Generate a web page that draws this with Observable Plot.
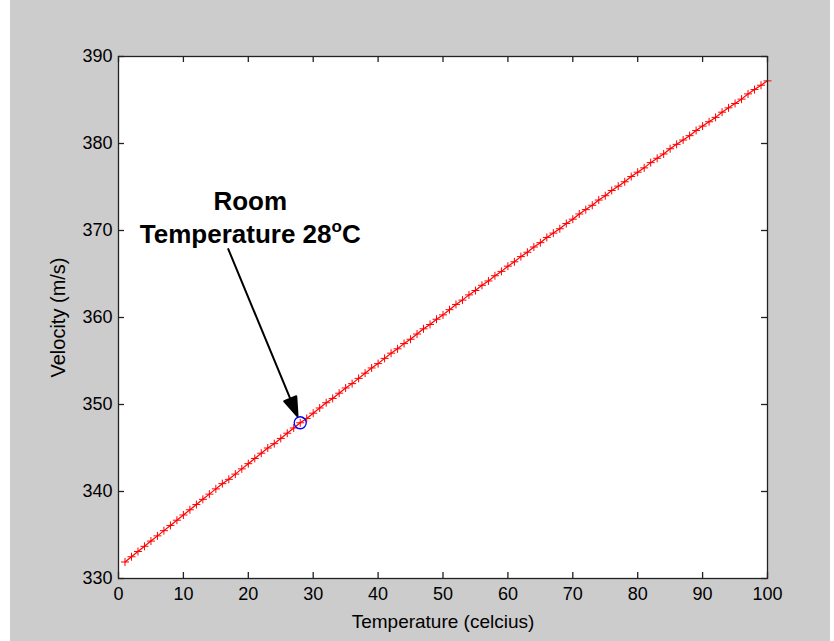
<!DOCTYPE html>
<html><head><meta charset="utf-8">
<script src="https://cdn.jsdelivr.net/npm/d3@7"></script>
<script src="https://cdn.jsdelivr.net/npm/@observablehq/plot@0.6"></script>
<style>
body{margin:0;background:#ffffff;}
#chart{position:absolute;left:10px;top:0;}
</style>
</head><body><div id="chart"></div>
<script>
const temperatures = [1,2,3,4,5,6,7,8,9,10,11,12,13,14,15,16,17,18,19,20,21,22,23,24,25,26,27,28,29,30,31,32,33,34,35,36,37,38,39,40,41,42,43,44,45,46,47,48,49,50,51,52,53,54,55,56,57,58,59,60,61,62,63,64,65,66,67,68,69,70,71,72,73,74,75,76,77,78,79,80,81,82,83,84,85,86,87,88,89,90,91,92,93,94,95,96,97,98,99,100];
const velocities = [331.9,332.5,333.1,333.7,334.3,334.9,335.5,336.1,336.7,337.3,
337.9,338.5,339.1,339.7,340.3,340.9,341.4,342.0,342.6,343.2,
343.8,344.4,345.0,345.5,346.1,346.7,347.3,347.9,348.4,349.0,
349.6,350.2,350.7,351.3,351.9,352.4,353.0,353.6,354.2,354.7,
355.3,355.9,356.4,357.0,357.5,358.1,358.7,359.2,359.8,360.3,
360.9,361.5,362.0,362.6,363.1,363.7,364.2,364.8,365.3,365.9,
366.4,367.0,367.5,368.1,368.6,369.2,369.7,370.2,370.8,371.3,
371.9,372.4,372.9,373.5,374.0,374.6,375.1,375.6,376.2,376.7,
377.2,377.8,378.3,378.8,379.4,379.9,380.4,380.9,381.5,382.0,
382.5,383.0,383.6,384.1,384.6,385.1,385.7,386.2,386.7,387.2];
const xTicks = [0,10,20,30,40,50,60,70,80,90,100];
const yTicks = [330,340,350,360,370,380,390];
const roomTemperature = [28];
const roomVelocity = [347.9];
const annotationLines = ["Room", "Temperature 28oC"];

const data = temperatures.map((t, i) => ({t, v: velocities[i]}));
const room = roomTemperature.map((t, i) => ({t, v: roomVelocity[i]}));
const notes = [
  {text: annotationLines[0], t: 20.3, v: 372.3},
  {text: annotationLines[1], t: 20.3, v: 368.6}
];

const W = 820, H = 641, mL = 108, mR = 63, mT = 56, mB = 63;
const frameW = W - mL - mR, frameH = H - mT - mB, tick = 6;

const plusSymbol = {
  draw(ctx, size) {
    const r = Math.sqrt(size / Math.PI);
    ctx.moveTo(-r, 0); ctx.lineTo(r, 0);
    ctx.moveTo(0, -r); ctx.lineTo(0, r);
  }
};
const arrowShape = {
  draw(ctx, l) {
    const gap = 7, h = 19, w = 6.5;
    ctx.moveTo(0, -gap);
    ctx.lineTo(-w, -gap - h);
    ctx.lineTo(w, -gap - h);
    ctx.closePath();
    ctx.moveTo(0, -gap - h + 1);
    ctx.lineTo(0, -l);
  }
};

const font = "Liberation Sans, Arial, Helvetica, sans-serif";

const plot = Plot.plot({
  width: W, height: H,
  marginLeft: mL, marginRight: mR, marginTop: mT, marginBottom: mB,
  style: {background: "#cccccc", fontFamily: font, color: "#000", fontSize: "18px"},
  x: {domain: [0, 100]},
  y: {domain: [330, 390]},
  marks: [
    Plot.frame({fill: "white", stroke: null}),
    Plot.line(data, {x: "t", y: "v", stroke: "#ff0000", strokeWidth: 1.2}),
    Plot.dot(data, {x: "t", y: "v", symbol: plusSymbol, r: 4, stroke: "#ff0000", fill: "none", strokeWidth: 1}),
    Plot.dot(room, {x: "t", y: "v", r: 6, stroke: "#0000ff", fill: "none", strokeWidth: 1.3}),
    Plot.vector(room, {x: "t", y: "v", anchor: "start", length: 188, rotate: -22.5, shape: arrowShape, stroke: "black", fill: "black", strokeWidth: 2}),
    Plot.text(notes, {x: "t", y: "v", text: "text", lineAnchor: "bottom", fontSize: 26, fontWeight: "bold", fill: "black", fontFamily: font}),
    Plot.ruleX(xTicks, {x: d => d, insetTop: frameH - tick, stroke: "#222", strokeWidth: 1.3}),
    Plot.ruleX(xTicks, {x: d => d, insetBottom: frameH - tick, stroke: "#222", strokeWidth: 1.3}),
    Plot.ruleY(yTicks, {y: d => d, insetRight: frameW - tick, stroke: "#222", strokeWidth: 1.3}),
    Plot.ruleY(yTicks, {y: d => d, insetLeft: frameW - tick, stroke: "#222", strokeWidth: 1.3}),
    Plot.frame({stroke: "#222", strokeWidth: 1.3}),
    Plot.axisX({ticks: xTicks, tickSize: 0, tickPadding: 9, fontSize: 18, label: null}),
    Plot.axisY({ticks: yTicks, tickSize: 0, tickPadding: 6, fontSize: 18, label: null}),
    Plot.axisX({ticks: [], tickSize: 0, fontSize: 19, label: "Temperature (celcius)", labelAnchor: "center", labelArrow: "none", labelOffset: 49}),
    Plot.axisY({ticks: [], tickSize: 0, fontSize: 20, label: "Velocity (m/s)", labelAnchor: "center", labelArrow: "none", labelOffset: 68})
  ]
});

// superscript "o" in the annotation
plot.querySelectorAll("text").forEach(el => {
  if (el.textContent === annotationLines[1]) {
    const target = el.querySelector("tspan") || el;
    target.innerHTML = 'Temperature 28<tspan dy="-11" font-size="17">o</tspan><tspan dy="11">C</tspan>';
  }
});

document.getElementById("chart").appendChild(plot);
</script>
</body></html>
